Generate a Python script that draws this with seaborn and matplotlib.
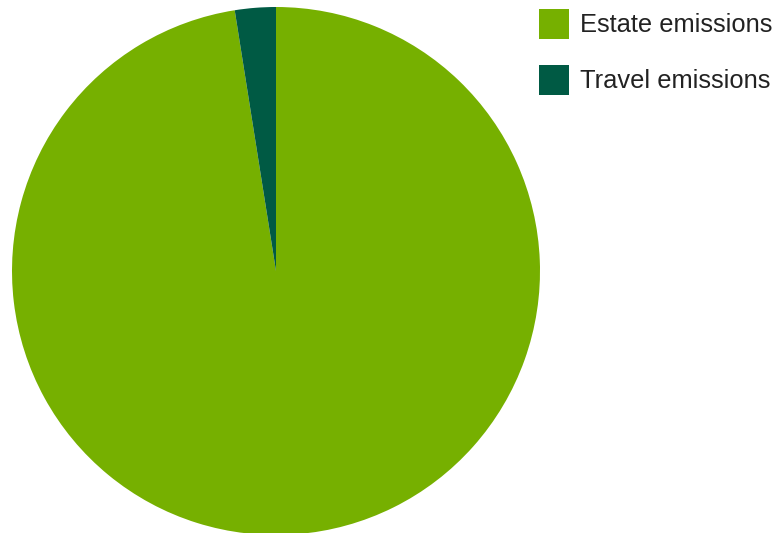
import matplotlib
matplotlib.use("Agg")
import matplotlib.pyplot as plt
import seaborn as sns

# Emission shares (percent)
categories = ["Estate emissions", "Travel emissions"]
shares = [97.5, 2.5]
colors = ["#76b000", "#005a44"]

sns.set_theme(style="white")
plt.rcParams["font.family"] = ["Liberation Sans", "DejaVu Sans"]

W, H = 780, 533
fig = plt.figure(figsize=(W / 100, H / 100), dpi=100)
fig.patch.set_facecolor("white")

# Pie axes: 528 px square box
ax = fig.add_axes([12 / W, -2 / H, 528 / W, 528 / H])
wedges, _ = ax.pie(
    shares,
    colors=colors,
    startangle=90,
    counterclock=False,
    radius=1.0,
    wedgeprops=dict(linewidth=0),
)
ax.set_xlim(-1, 1)
ax.set_ylim(-1, 1)
ax.set_aspect("auto")
ax.axis("off")

fig.legend(
    wedges,
    categories,
    loc="upper left",
    bbox_to_anchor=(539 / W, 1 - 9 / H),
    frameon=False,
    fontsize=18.4,
    handlelength=1.174,
    handleheight=1.43,
    handletextpad=0.43,
    labelspacing=1.0,
    borderpad=0,
    borderaxespad=0,
    labelcolor="#222222",
)

fig.savefig("out.png", dpi=100)
